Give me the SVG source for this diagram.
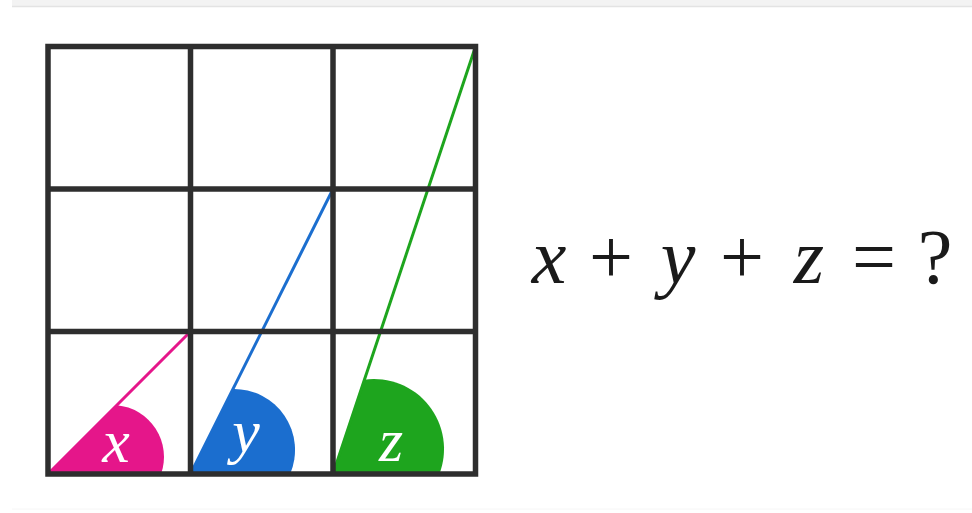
<svg xmlns="http://www.w3.org/2000/svg" width="972" height="513" viewBox="0 0 972 513">
  <style>
    .grid { stroke: #2e2e2e; stroke-width: 5.5; fill: none; stroke-linecap: butt; }
    .ray { stroke-width: 3; fill: none; }
    .lbl { font-family: "Liberation Serif", "Times New Roman", serif; font-style: italic; fill: #ffffff; text-anchor: middle; font-size: 62px; }
    .eq { font-family: "Liberation Serif", "Times New Roman", serif; fill: #1a1a1a; text-anchor: middle; font-size: 78px; }
    .v { font-style: italic; }
  </style>
  <rect x="0" y="0" width="972" height="513" fill="#ffffff"/>
  <rect x="12" y="0" width="960" height="7" fill="#f3f3f3"/>
  <line x1="12" y1="6.5" x2="972" y2="6.5" stroke="#e3e3e3" stroke-width="1.5"/>
  <line x1="12" y1="509" x2="972" y2="509" stroke="#f6f6f6" stroke-width="1"/>

  <g id="angle-x">
    <path d="M48,474 L116.8,405.2 A52,52 0 0 1 161.1,474 Z" fill="#e5168a"/>
    <line class="ray" x1="48" y1="474" x2="190.5" y2="331.5" stroke="#e5168a"/>
    <text class="lbl" x="116" y="462">x</text>
  </g>

  <g id="angle-y">
    <path d="M190.5,474 L232.5,389 A61,61 0 0 1 290.1,474 Z" fill="#1b6ecf"/>
    <line class="ray" x1="190.5" y1="474" x2="333" y2="189" stroke="#1b6ecf"/>
    <text class="lbl" x="246" y="452">y</text>
  </g>

  <g id="angle-z">
    <path d="M333,474 L364.45,379.65 A70,70 0 0 1 439.4,474 Z" fill="#1ea51e"/>
    <line class="ray" x1="333" y1="474" x2="475.5" y2="46.5" stroke="#1ea51e"/>
    <text class="lbl" x="391" y="461">z</text>
  </g>

  <g id="grid">
    <rect class="grid" x="48" y="46.5" width="427.5" height="427.5"/>
    <line class="grid" x1="190.5" y1="46.5" x2="190.5" y2="474"/>
    <line class="grid" x1="333" y1="46.5" x2="333" y2="474"/>
    <line class="grid" x1="48" y1="189" x2="475.5" y2="189"/>
    <line class="grid" x1="48" y1="331.5" x2="475.5" y2="331.5"/>
  </g>

  <g id="equation">
    <text class="eq" y="283"><tspan class="v" x="549">x</tspan><tspan x="611">+</tspan><tspan class="v" x="678">y</tspan><tspan x="742">+</tspan><tspan class="v" x="809">z</tspan><tspan x="874">=</tspan><tspan x="935">?</tspan></text>
  </g>
</svg>
